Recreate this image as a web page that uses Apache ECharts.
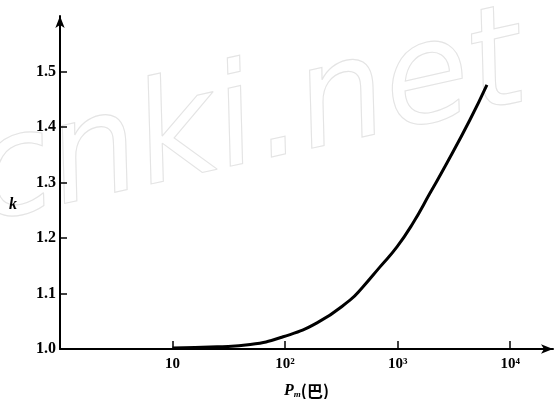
<!DOCTYPE html>
<html>
<head>
<meta charset="utf-8">
<script src="https://cdn.jsdelivr.net/npm/echarts@6/dist/echarts.min.js"></script>
<style>
  html, body { margin: 0; padding: 0; background: #fff; }
  #main { width: 557px; height: 399px; }
</style>
</head>
<body>
<div id="main"></div>
<script>
// pressure (bar) and k
const pressure = [10, 25, 49, 96, 192, 377, 482, 697, 986, 1370, 1940, 2740, 4390, 6210];
const kValues = [1.002, 1.004, 1.008, 1.022, 1.047, 1.088, 1.110, 1.148, 1.184, 1.227, 1.281, 1.335, 1.413, 1.476];
const xTicks = [10, 100, 1000, 10000];
const xTickText = ['10', '10²', '10³', '10⁴'];
const yTicks = [1.0, 1.1, 1.2, 1.3, 1.4, 1.5];

const serif = '"Liberation Serif", "DejaVu Serif", serif';

let myChart = echarts.init(document.getElementById('main'));
myChart.setOption({
    animation: false,
    backgroundColor: '#fff',
    grid: {
        left: 60,
        right: 4,
        top: 16,
        bottom: 50,
        outerBoundsMode: 'none'
    },
    graphic: [{
        // faint watermark
        type: 'text',
        x: -8,
        y: 254,
        rotation: 0.22,
        silent: true,
        z: -10,
        style: {
            text: 'cnki.net',
            font: 'italic 200 140px "DejaVu Sans", sans-serif',
            verticalAlign: 'bottom',
            fill: 'rgba(255,255,255,0)',
            stroke: '#e4e4e4',
            lineWidth: 1.1
        }
    }, {
        type: 'text',
        x: 13,
        y: 205,
        style: {
            text: 'k',
            align: 'center',
            verticalAlign: 'middle',
            font: 'italic bold 16px "Liberation Serif", serif',
            fill: '#000'
        }
    }],
    xAxis: {
        type: 'log',
        min: 1,
        max: 24000,
        logBase: 10,
        splitLine: { show: false },
        axisLine: {
            lineStyle: { color: '#000', width: 2 },
            symbol: ['none', 'arrow'],
            symbolSize: [7, 12]
        },
        axisTick: {
            inside: true,
            length: 8,
            lineStyle: { color: '#000', width: 1.5 },
            customValues: xTicks
        },
        axisLabel: {
            customValues: xTicks,
            margin: 8,
            color: '#000',
            fontFamily: serif,
            fontWeight: 'bold',
            fontSize: 15,
            formatter: function (v) {
                let i = Math.round(Math.log10(v)) - 1;
                return xTickText[i];
            }
        },
        name: '{p|P}{s|m}{c|(巴)}',
        nameLocation: 'middle',
        nameGap: 33,
        nameTextStyle: {
            rich: {
                p: { fontFamily: serif, fontStyle: 'italic', fontWeight: 'bold', fontSize: 16, color: '#000' },
                s: { fontFamily: serif, fontStyle: 'italic', fontWeight: 'bold', fontSize: 9, color: '#000', padding: [8, 0, 0, 0] },
                c: { fontFamily: '"Noto Sans CJK SC", sans-serif', fontWeight: 'bold', fontSize: 16, color: '#000' }
            }
        }
    },
    yAxis: {
        type: 'value',
        min: 1.0,
        max: 1.6,
        interval: 0.1,
        splitLine: { show: false },
        axisLine: {
            lineStyle: { color: '#000', width: 2 },
            symbol: ['none', 'arrow'],
            symbolSize: [7, 12]
        },
        axisTick: {
            inside: true,
            length: 7,
            lineStyle: { color: '#000', width: 1.5 },
            customValues: yTicks.slice(1)
        },
        axisLabel: {
            customValues: yTicks,
            margin: 4,
            color: '#000',
            fontFamily: serif,
            fontWeight: 'bold',
            fontSize: 16,
            formatter: function (v) { return v.toFixed(1); }
        }
    },
    series: [{
        type: 'line',
        smooth: 0.5,
        symbol: 'none',
        lineStyle: { color: '#000', width: 3 },
        data: pressure.map((p, i) => [p, kValues[i]])
    }]
});
</script>
</body>
</html>
